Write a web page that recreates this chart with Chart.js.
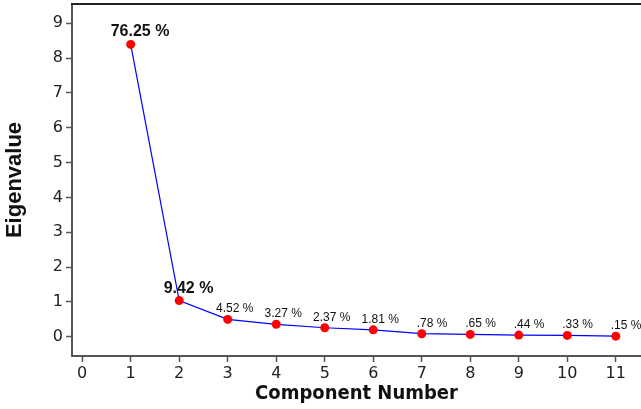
<!DOCTYPE html>
<html>
<head>
<meta charset="utf-8">
<script src="https://cdn.jsdelivr.net/npm/chart.js@4.4.1/dist/chart.umd.min.js"></script>
<style>
  html, body { margin: 0; padding: 0; background: #fff; overflow: hidden; }
  #wrap { width: 641px; height: 409px; }
</style>
</head>
<body>
<div id="wrap"><canvas id="scree"></canvas></div>
<script>
// Scree plot: eigenvalue per principal component, labelled with % of variance
const components = [1, 2, 3, 4, 5, 6, 7, 8, 9, 10, 11];
const eigenvalues = [8.39, 1.04, 0.50, 0.36, 0.26, 0.20, 0.09, 0.07, 0.05, 0.04, 0.02];
const varianceLabels = ['76.25 %', '9.42 %', '4.52 %', '3.27 %', '2.37 %', '1.81 %', '.78 %', '.65 %', '.44 %', '.33 %', '.15 %'];
const xTickValues = [0, 1, 2, 3, 4, 5, 6, 7, 8, 9, 10, 11];
const yTickValues = [0, 1, 2, 3, 4, 5, 6, 7, 8, 9];

const tickFont = { family: '"DejaVu Sans", Verdana, sans-serif', size: 16 };
const axisColor = '#555';

// Percentage labels above each point; the number part is centred on the point
const varianceLabelPlugin = {
  id: 'varianceLabels',
  afterDatasetsDraw(chart) {
    const ctx = chart.ctx;
    const meta = chart.getDatasetMeta(0);
    ctx.save();
    ctx.fillStyle = '#111';
    ctx.textAlign = 'left';
    ctx.textBaseline = 'alphabetic';
    meta.data.forEach((pt, i) => {
      const text = varianceLabels[i];
      const bold = i < 2;
      ctx.font = bold ? 'bold 16px "Liberation Sans", Arial, sans-serif'
                      : '12px "Liberation Sans", Arial, sans-serif';
      const num = text.split(' ')[0];
      const lead = num.startsWith('.') ? ctx.measureText('0').width : 0;
      const w = ctx.measureText(num.startsWith('.') ? '0' + num : num).width;
      const x = pt.x - w / 2 + lead;
      ctx.fillText(text, x, pt.y - (bold ? 8 : 7));
    });
    ctx.restore();
  }
};

// Frame line along the top of the plot area
const topFramePlugin = {
  id: 'topFrame',
  afterDraw(chart) {
    const { ctx, chartArea } = chart;
    ctx.save();
    ctx.strokeStyle = '#222';
    ctx.lineWidth = 2;
    ctx.beginPath();
    ctx.moveTo(chartArea.left - 1, chartArea.top);
    ctx.lineTo(chart.width, chartArea.top);
    ctx.stroke();
    ctx.restore();
  }
};

function noEdgePadding(scale) {
  scale.paddingTop = 0;
  scale.paddingBottom = 0;
  scale.paddingLeft = 0;
  scale.paddingRight = 0;
}

new Chart(document.getElementById('scree'), {
  type: 'line',
  data: {
    datasets: [{
      data: components.map((c, i) => ({ x: c, y: eigenvalues[i] })),
      borderColor: '#0000ff',
      borderWidth: 1.2,
      pointBackgroundColor: '#ff0000',
      pointBorderColor: '#ff0000',
      pointBorderWidth: 0,
      pointRadius: 4.5,
      tension: 0
    }]
  },
  options: {
    responsive: true,
    maintainAspectRatio: false,
    animation: false,
    layout: { autoPadding: false, padding: { top: 4, right: 0, left: 0, bottom: 0 } },
    plugins: { legend: { display: false }, tooltip: { enabled: false } },
    scales: {
      x: {
        type: 'linear',
        min: -0.21,
        max: 11.52,
        afterBuildTicks(scale) { scale.ticks = xTickValues.map(v => ({ value: v })); },
        afterFit(scale) { scale.height = 53; noEdgePadding(scale); },
        ticks: { font: tickFont, color: '#222', padding: 2, maxRotation: 0, autoSkip: false },
        grid: { drawOnChartArea: false, drawTicks: true, tickLength: 6, tickColor: axisColor, tickWidth: 1.5 },
        border: { display: true, color: axisColor, width: 2 },
        title: {
          display: true,
          text: 'Component Number',
          color: '#111',
          font: { family: '"DejaVu Sans Condensed", "DejaVu Sans", sans-serif', size: 20, weight: 'bold' },
          padding: { top: 0, bottom: 3 }
        }
      },
      y: {
        type: 'linear',
        min: -0.55,
        max: 9.55,
        afterBuildTicks(scale) { scale.ticks = yTickValues.map(v => ({ value: v })); },
        afterFit(scale) { scale.width = 72; noEdgePadding(scale); },
        ticks: { font: tickFont, color: '#222', padding: 3 },
        grid: { drawOnChartArea: false, drawTicks: true, tickLength: 6, tickColor: axisColor, tickWidth: 1.5 },
        border: { display: true, color: axisColor, width: 2 },
        title: {
          display: true,
          text: 'Eigenvalue',
          color: '#111',
          font: { family: '"Liberation Sans", Arial, sans-serif', size: 22, weight: 'bold' },
          padding: { top: 2, bottom: 0 }
        }
      }
    }
  },
  plugins: [varianceLabelPlugin, topFramePlugin]
});
</script>
</body>
</html>
